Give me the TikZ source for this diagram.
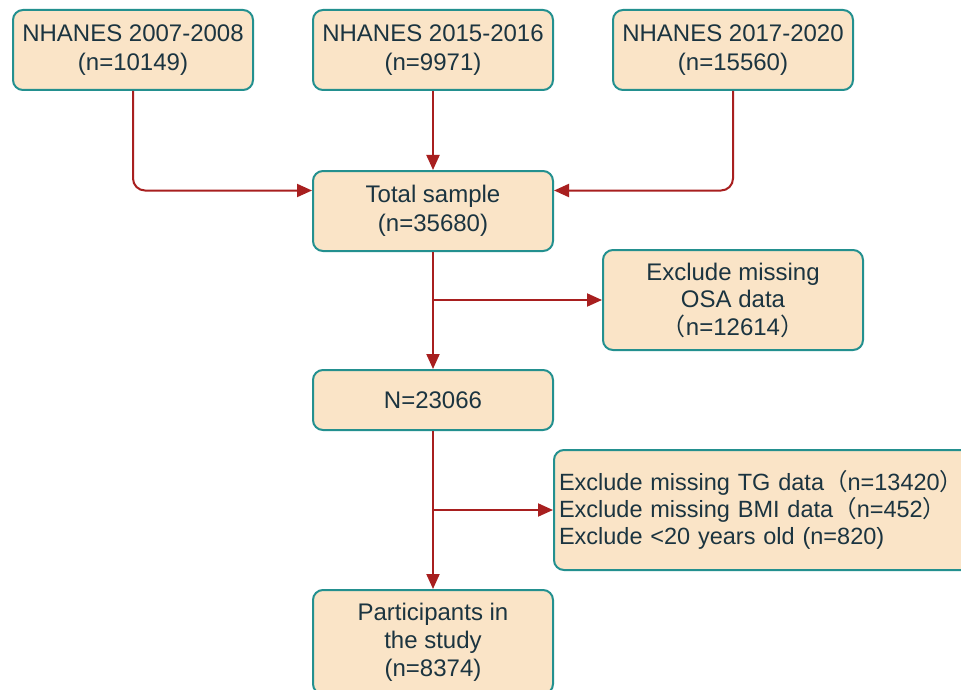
\documentclass[tikz,border=0pt]{standalone}
\usepackage{fontspec}
\setmainfont{Liberation Sans}
\newfontfamily\cjk{Noto Sans CJK SC}
\usetikzlibrary{arrows.meta,calc}
\definecolor{boxfill}{HTML}{FAE4C7}
\definecolor{boxline}{HTML}{23908F}
\definecolor{arr}{HTML}{A81F1F}
\definecolor{txt}{HTML}{1B3440}
\newcommand{\fwclose}{\makebox[0.45em][l]{\cjk ）}}
\begin{document}
\begin{tikzpicture}[x=1pt,y=-1pt,
  box/.style={draw=boxline, line width=2pt, fill=boxfill, rounded corners=10pt,
    text=txt, font=\fontsize{24}{29.5}\selectfont, align=center,
    minimum width=240pt, inner sep=0pt},
  conn/.style={draw=arr, line width=2pt, -{Triangle[length=15pt,width=13pt]}}]
\useasboundingbox (0,0) rectangle (961,690);
\fill[white] (0,0) rectangle (961,690);
\node[box, minimum height=80pt] (a) at (133,50) {NHANES 2007-2008\\(n=10149)};
\node[box, minimum height=80pt] (b) at (433,50) {NHANES 2015-2016\\(n=9971)};
\node[box, minimum height=80pt] (c) at (733,50) {NHANES 2017-2020\\(n=15560)};
\node[box, minimum height=80pt] (t) at (433,211) {Total sample\\(n=35680)};
\node[box, minimum width=260pt, minimum height=100pt, font=\fontsize{24}{27.5}\selectfont] (e1) at (733,300)
  {Exclude missing\\OSA data\\{\cjk （}n=12614{\cjk ）}};
\node[box, anchor=west, minimum height=120pt, text width=425pt, align=left, inner xsep=5pt,
  font=\fontsize{23.5}{27}\selectfont] (e2) at (553,510)
  {Exclude missing TG data{\cjk （}n=13420\fwclose\\Exclude missing BMI data{\cjk （}n=452\fwclose\\Exclude <20 years old (n=820)};
\node[box, minimum height=60pt] (n) at (433,400) {N=23066};
\node[box, minimum height=104pt, font=\fontsize{24}{28}\selectfont] (p) at (433,642) {Participants in\\the study\\(n=8374)};
\draw[conn, rounded corners=12pt] (a.south) |- ($(t.north west)!0.25!(t.south west)$);
\draw[conn] (b) -- (t);
\draw[conn, rounded corners=12pt] (c.south) |- ($(t.north east)!0.25!(t.south east)$);
\draw[conn] (t) -- (n);
\draw[conn] (t.south |- e1.west) -- (e1.west);
\draw[conn] (n) -- (p);
\draw[conn] (n.south |- e2.west) -- (e2.west);
\end{tikzpicture}
\end{document}
